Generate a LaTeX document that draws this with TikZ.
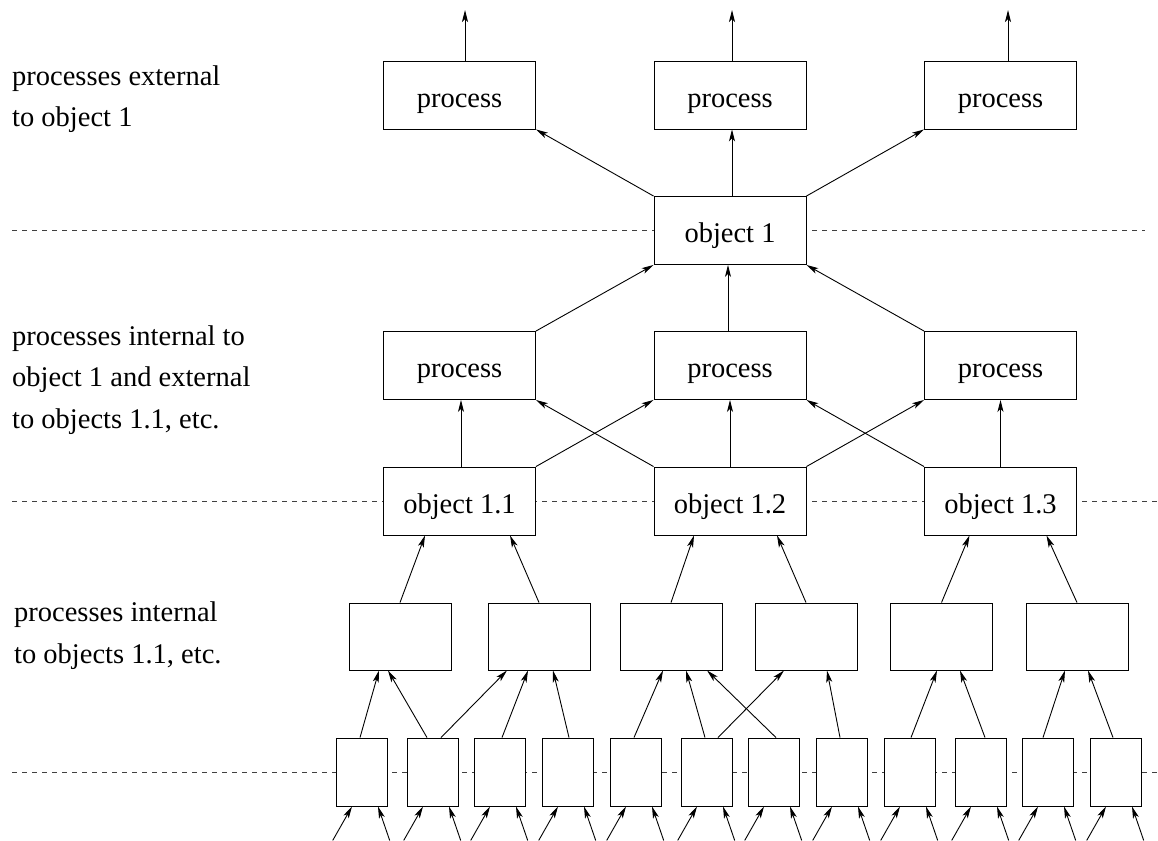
\documentclass[tikz,border=0pt]{standalone}
\usepackage{fontspec}
\setmainfont{Liberation Serif}
\usetikzlibrary{arrows.meta}
\begin{document}
\begin{tikzpicture}[x=1pt, y=-1pt,
    font=\fontsize{28.5}{41.5}\selectfont,
    big/.style={draw, fill=white, line width=0.9pt, inner sep=0pt, minimum width=152pt, minimum height=68pt,
                text height=25pt, text depth=1pt},
    small/.style={draw, fill=white, line width=0.9pt, inner sep=0pt, minimum width=102pt, minimum height=67pt},
    tiny/.style={draw, fill=white, line width=0.9pt, inner sep=0pt, minimum width=51pt, minimum height=68pt},
    arr/.style={-{Stealth[length=12pt, width=6pt, inset=3pt]}, line width=0.9pt},
    level/.style={dash pattern=on 5pt off 5pt, line width=0.8pt, black!75}]
  \useasboundingbox (0,0) rectangle (1158,840);

  % level lines
  \coordinate (l1a) at (12,230.5);  \coordinate (l1b) at (1145,230.5);
  \coordinate (l2a) at (12,501);    \coordinate (l2b) at (1158,501);
  \coordinate (l3a) at (12,772);    \coordinate (l3b) at (1158,772);
  \draw [level] (l1a) -- (l1b);
  \draw [level] (l2a) -- (l2b);
  \draw [level] (l3a) -- (l3b);

  % labels
  \node [anchor=base west, align=left, inner sep=0pt] (lab1) at (12,127) {processes external\\to object 1};
  \node [anchor=base west, align=left, inner sep=0pt] (lab2) at (12,428) {processes internal to\\object 1 and external\\to objects 1.1, etc.};
  \node [anchor=base west, align=left, inner sep=0pt] (lab3) at (14,663) {processes internal\\to objects 1.1, etc.};

  % boxes
  \node [big] (t1) at (459.5,95) {process};
  \node [big] (t2) at (730,95) {process};
  \node [big] (t3) at (1000.5,95) {process};
  \node [big] (o1) at (730,230.5) {object 1};
  \node [big] (m1) at (459.5,365.5) {process};
  \node [big] (m2) at (730,365.5) {process};
  \node [big] (m3) at (1000.5,365.5) {process};
  \node [big] (a1) at (459.5,501) {object 1.1};
  \node [big] (a2) at (730,501) {object 1.2};
  \node [big] (a3) at (1000.5,501) {object 1.3};
  \node [small] (s1) at (400,636.5) {};
  \node [small] (s2) at (539,636.5) {};
  \node [small] (s3) at (671,636.5) {};
  \node [small] (s4) at (806,636.5) {};
  \node [small] (s5) at (941.5,636.5) {};
  \node [small] (s6) at (1077,636.5) {};
  \foreach \n/\x in {1/361.5, 2/432.5, 3/499.5, 4/567.5, 5/635.5, 6/706.5,
                     7/773.5, 8/841.5, 9/909.5, 10/980.5, 11/1047.5, 12/1115.5}
    \node [tiny] (b\n) at (\x,772) {};

  % out of object 1
  \coordinate (u1) at (465,10);
  \coordinate (u2) at (732,10);
  \coordinate (u3) at (1008,10);
  \draw [arr] (u1 |- t1.north) -- (u1);
  \draw [arr] (u2 |- t2.north) -- (u2);
  \draw [arr] (u3 |- t3.north) -- (u3);
  \draw [arr] (o1.north west) -- (t1.south east);
  \draw [arr] ([xshift=2]o1.north) -- ([xshift=2]t2.south);
  \draw [arr] (o1.north east) -- (t3.south west);

  % into object 1
  \draw [arr] (m1.north east) -- (o1.south west);
  \draw [arr] ([xshift=-2]m2.north) -- ([xshift=-2]o1.south);
  \draw [arr] (m3.north west) -- (o1.south east);

  % objects 1.1, 1.2, 1.3
  \draw [arr] ([xshift=1.5]a1.north) -- ([xshift=1.5]m1.south);
  \draw [arr] (a1.north east) -- (m2.south west);
  \draw [arr] (a2.north west) -- (m1.south east);
  \draw [arr] (a2.north) -- (m2.south);
  \draw [arr] (a2.north east) -- (m3.south west);
  \draw [arr] (a3.north west) -- (m2.south east);
  \draw [arr] (a3.north) -- (m3.south);

  \draw [arr] (s1.north) -- ([xshift=-34.5]a1.south);
  \draw [arr] (s2.north) -- ([xshift=50.5]a1.south);
  \draw [arr] (s3.north) -- ([xshift=-36]a2.south);
  \draw [arr] (s4.north) -- ([xshift=47]a2.south);
  \draw [arr] (s5.north) -- ([xshift=-31]a3.south);
  \draw [arr] (s6.north) -- ([xshift=46]a3.south);

  % bottom row
  \draw [arr] ([xshift=-1.5]b1.north) -- ([xshift=-21]s1.south);
  \draw [arr] ([xshift=-5.5]b2.north) -- ([xshift=-12]s1.south);
  \draw [arr] ([xshift=8.5]b2.north) -- ([xshift=-32]s2.south);
  \draw [arr] ([xshift=2.5]b3.north) -- ([xshift=-11]s2.south);
  \draw [arr] ([xshift=1.5]b4.north) -- ([xshift=14]s2.south);
  \draw [arr] ([xshift=-1.5]b5.north) -- ([xshift=-8]s3.south);
  \draw [arr] ([xshift=-1.5]b6.north) -- ([xshift=15]s3.south);
  \draw [arr] ([xshift=11.5]b6.north) -- ([xshift=-22]s4.south);
  \draw [arr] ([xshift=2.5]b7.north) -- ([xshift=36]s3.south);
  \draw [arr] ([xshift=-1.5]b8.north) -- ([xshift=21]s4.south);
  \draw [arr] ([xshift=1.5]b9.north) -- ([xshift=-4.5]s5.south);
  \draw [arr] ([xshift=4.5]b10.north) -- ([xshift=18.5]s5.south);
  \draw [arr] ([xshift=-4.5]b11.north) -- ([xshift=-12]s6.south);
  \draw [arr] ([xshift=-2.5]b12.north) -- ([xshift=11]s6.south);

  \foreach \n in {1,...,12} {
    \draw [arr] ([xshift=-28.8, yshift=-34]b\n.south) -- ([xshift=-9.5]b\n.south);
    \draw [arr] ([xshift=28.2, yshift=-34]b\n.south) -- ([xshift=16.5]b\n.south);
  }
\end{tikzpicture}
\end{document}
